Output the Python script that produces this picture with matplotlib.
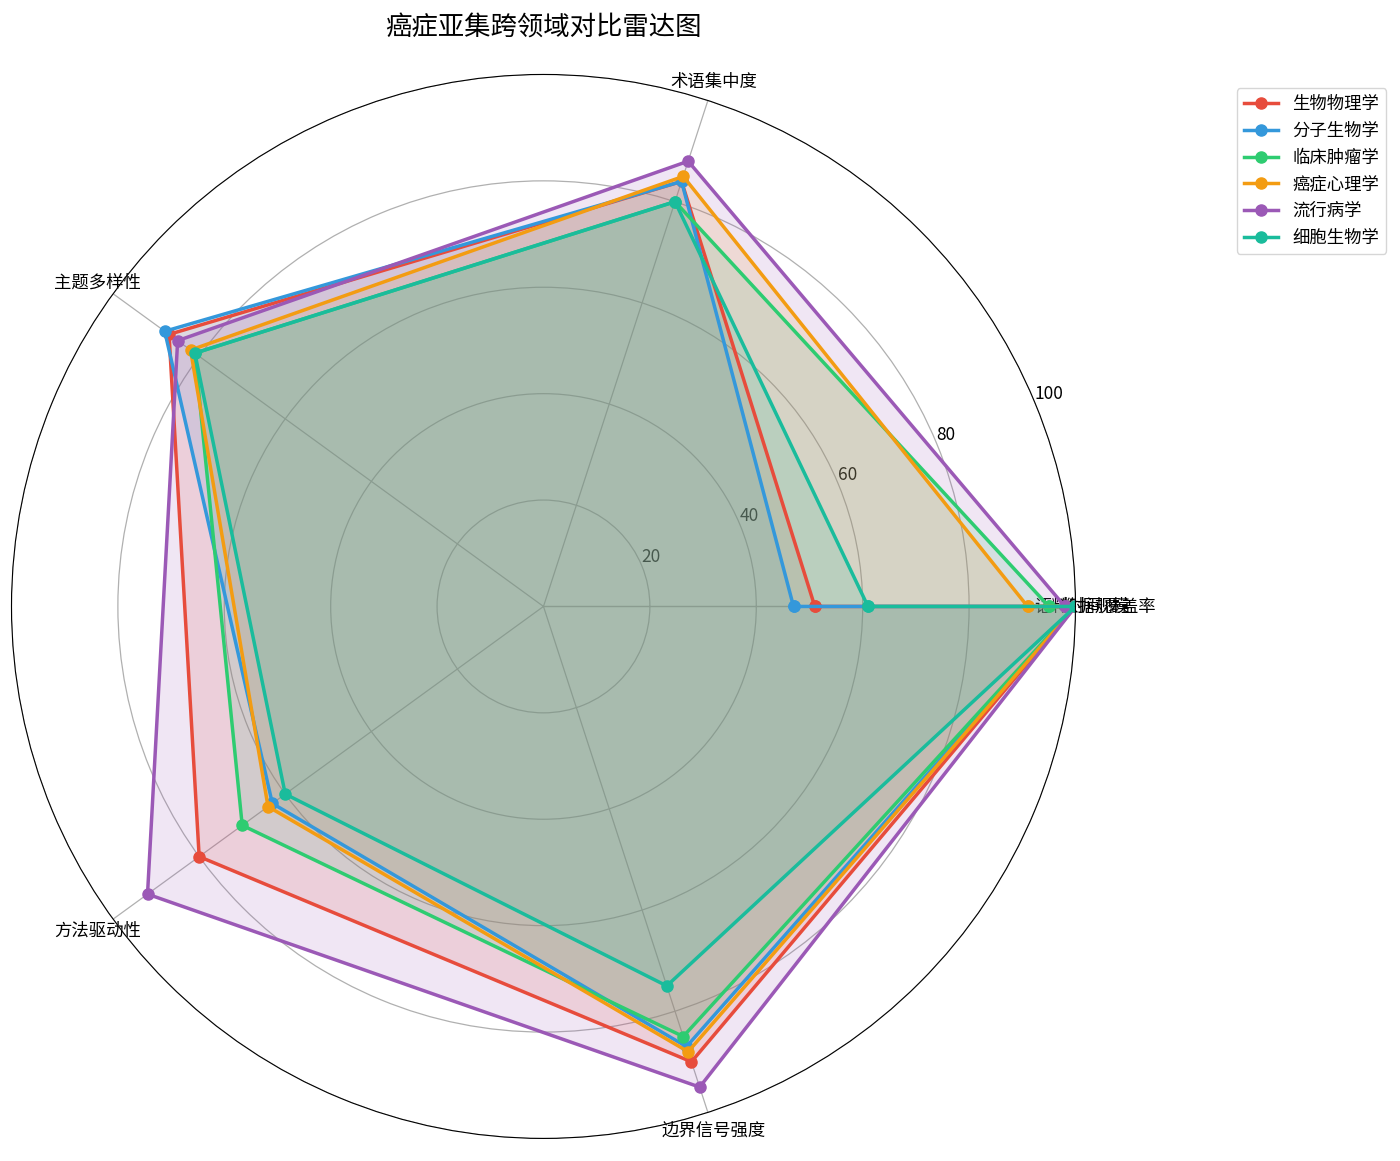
import numpy as np
import matplotlib
matplotlib.use('Agg')
import matplotlib.pyplot as plt

plt.rcParams['font.family'] = ['Noto Sans CJK SC', 'DejaVu Sans']
plt.rcParams['axes.unicode_minus'] = False

# 维度（首尾两个标签在图中重叠）
categories = ['语料时间覆盖率', '术语集中度', '主题多样性', '方法驱动性', '边界信号强度', '数据规模']

fields = ['生物物理学', '分子生物学', '临床肿瘤学', '癌症心理学', '流行病学', '细胞生物学']
colors = ['#e74c3c', '#3498db', '#2ecc71', '#f39c12', '#9b59b6', '#1abc9c']

biophysics = [51, 84, 87, 80, 90, 100]
molecular = [47, 84, 88, 63, 87, 100]
clinical = [95, 80, 81, 70, 85, 100]
psycho = [91, 85, 82, 64, 88, 100]
epidemiology = [98, 88, 85, 92, 95, 100]
cell_bio = [61, 80, 81, 60, 75, 100]

series = [biophysics, molecular, clinical, psycho, epidemiology, cell_bio]

rticks = [20, 40, 60, 80, 100]

# 角度
angles = np.linspace(0, 2 * np.pi, len(categories)).tolist()
angles_closed = angles + angles[:1]

fig = plt.figure(figsize=(14, 11.61), dpi=100)
ax = fig.add_axes([0.0082, 0.0194, 0.76, 0.9165], polar=True)
ax.set_axisbelow(True)

for name, vals, c in zip(fields, series, colors):
    v = vals + vals[:1]
    ax.plot(angles_closed, v, 'o-', color=c, linewidth=2.5, markersize=8, label=name)
    ax.fill(angles_closed, v, color=c, alpha=0.15)

ax.set_xticks(angles)
ax.set_xticklabels(categories, fontsize=12.5)
ax.set_ylim(0, 100)
ax.set_yticks(rticks)
ax.set_yticklabels([str(t) for t in rticks], fontsize=12.5)
ax.set_rlabel_position(22.5)
ax.grid(True, color='#b0b0b0', linewidth=0.9)

ax.set_title('癌症亚集跨领域对比雷达图', fontsize=19, pad=29)
ax.legend(loc='upper right', bbox_to_anchor=(1.30, 0.995), fontsize=12.5)

fig.savefig('out.png', dpi=100)
